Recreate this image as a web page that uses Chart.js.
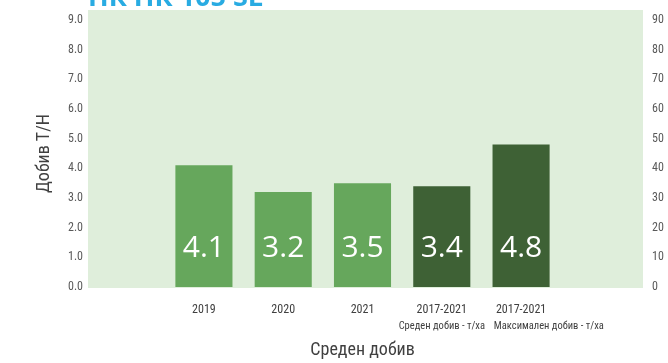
<!DOCTYPE html>
<html>
<head>
<meta charset="utf-8">
<script src="https://cdn.jsdelivr.net/npm/chart.js@4.4.0/dist/chart.umd.min.js"></script>
<style>
  html, body { margin: 0; padding: 0; background: #ffffff; overflow: hidden; }
  #wrap { width: 668px; height: 363px; }
  #myChart { display: block; }
</style>
</head>
<body>
<div id="wrap"><canvas id="myChart" width="668" height="363"></canvas></div>
<script>
// categories (empty slots at both ends leave room around the bars)
const categories = ['', '2019', '2020', '2021', '2017-2021', '2017-2021', ''];
const subLabels = ['Среден добив - т/ха', 'Максимален добив - т/ха'];
const yields = [null, 4.1, 3.2, 3.5, 3.4, 4.8, null];
const barColors = ['#66a75c', '#66a75c', '#66a75c', '#66a75c', '#3e6135', '#3e6135', '#66a75c'];
const leftTicks = [0, 1, 2, 3, 4, 5, 6, 7, 8, 9];
const rightTicks = [0, 10, 20, 30, 40, 50, 60, 70, 80, 90];
const titleText = 'НК НК 105 SL';

// Roboto with the condensed stretch
const narrow = 'Roboto';
const cond = 'condensed';
const grey = '#595959';

// light green panel behind the plot, a bit taller than the scale
const panelBg = {
  id: 'panelBg',
  beforeDraw(chart) {
    const { ctx, chartArea } = chart;
    ctx.save();
    ctx.fillStyle = '#dfeedb';
    ctx.fillRect(chartArea.left + 3, chartArea.top - 10, chartArea.right - chartArea.left, chartArea.bottom - chartArea.top + 11);
    // heading sits above the canvas edge, only its foot shows
    ctx.fillStyle = '#29abe2';
    ctx.font = "bold 27px 'Open Sans', sans-serif";
    ctx.textBaseline = 'alphabetic';
    ctx.textAlign = 'left';
    ctx.fillText(titleText, chartArea.left + 3, 6);
    ctx.restore();
  }
};

// big white value inside the foot of each bar
const valueLabels = {
  id: 'valueLabels',
  afterDatasetsDraw(chart) {
    const { ctx, chartArea } = chart;
    const meta = chart.getDatasetMeta(0);
    ctx.save();
    ctx.fillStyle = '#ffffff';
    ctx.font = "30px 'Open Sans', sans-serif";
    ctx.textAlign = 'center';
    ctx.textBaseline = 'alphabetic';
    meta.data.forEach(function (bar, i) {
      if (yields[i] == null) return;
      ctx.fillText(yields[i].toFixed(1), bar.x, chartArea.bottom - 30);
    });
    ctx.restore();
  }
};

// where the two sub captions sit along the category axis
const subTickAt = [4, 5.35];

const ctx = document.getElementById('myChart').getContext('2d');
const myChart = new Chart(ctx, {
  type: 'bar',
  data: {
    labels: categories,
    datasets: [{
      label: 'Добив',
      data: yields,
      backgroundColor: barColors,
      borderWidth: 0,
      categoryPercentage: 1,
      barPercentage: 0.72
    }]
  },
  options: {
    responsive: false,
    animation: false,
    layout: { padding: { top: 20, left: 0, right: 0, bottom: 0 } },
    plugins: {
      legend: { display: false },
      tooltip: { enabled: false }
    },
    scales: {
      x: {
        type: 'category',
        position: 'bottom',
        offset: true,
        grid: { display: false, drawTicks: false },
        border: { display: false },
        ticks: {
          color: '#404040',
          font: { family: narrow, weight: cond, size: 12 },
          padding: 16,
          maxRotation: 0,
          autoSkip: false
        },
        afterFit: function (scale) { scale.height = 33; }
      },
      x2: {
        type: 'linear',
        position: 'bottom',
        offset: false,
        min: -0.5,
        max: 6.5,
        grid: { display: false, drawTicks: false, offset: false },
        border: { display: false },
        afterBuildTicks: function (scale) {
          scale.ticks = subTickAt.map(function (v) { return { value: v }; });
        },
        ticks: {
          color: '#404040',
          font: { family: narrow, weight: cond, size: 10.5 },
          padding: 0,
          maxRotation: 0,
          autoSkip: false,
          callback: function (v, i) { return subLabels[i]; }
        },
        title: {
          display: true,
          text: 'Среден добив',
          color: '#404040',
          font: { family: narrow, weight: cond, size: 18 },
          padding: { top: 0, bottom: 2 }
        },
        afterFit: function (scale) { scale.height = 43; }
      },
      y: {
        position: 'left',
        min: 0,
        max: 9,
        grid: { display: false, drawTicks: false },
        border: { display: false },
        afterBuildTicks: function (scale) {
          scale.ticks = leftTicks.map(function (v) { return { value: v }; });
        },
        ticks: {
          color: grey,
          font: { family: narrow, weight: cond, size: 12 },
          padding: 2,
          callback: function (v) { return Number(v).toFixed(1); }
        },
        title: {
          display: true,
          text: 'Добив Т/Н',
          color: '#404040',
          font: { family: narrow, weight: cond, size: 18 },
          padding: { top: 34, bottom: 0 }
        },
        afterFit: function (scale) { scale.width = 85; }
      },
      y1: {
        position: 'right',
        min: 0,
        max: 90,
        grid: { display: false, drawTicks: false },
        border: { display: false },
        afterBuildTicks: function (scale) {
          scale.ticks = rightTicks.map(function (v) { return { value: v }; });
        },
        ticks: {
          color: grey,
          font: { family: narrow, weight: cond, size: 12 },
          padding: 12
        },
        afterFit: function (scale) { scale.width = 28; }
      }
    }
  },
  plugins: [panelBg, valueLabels]
});
</script>
</body>
</html>
